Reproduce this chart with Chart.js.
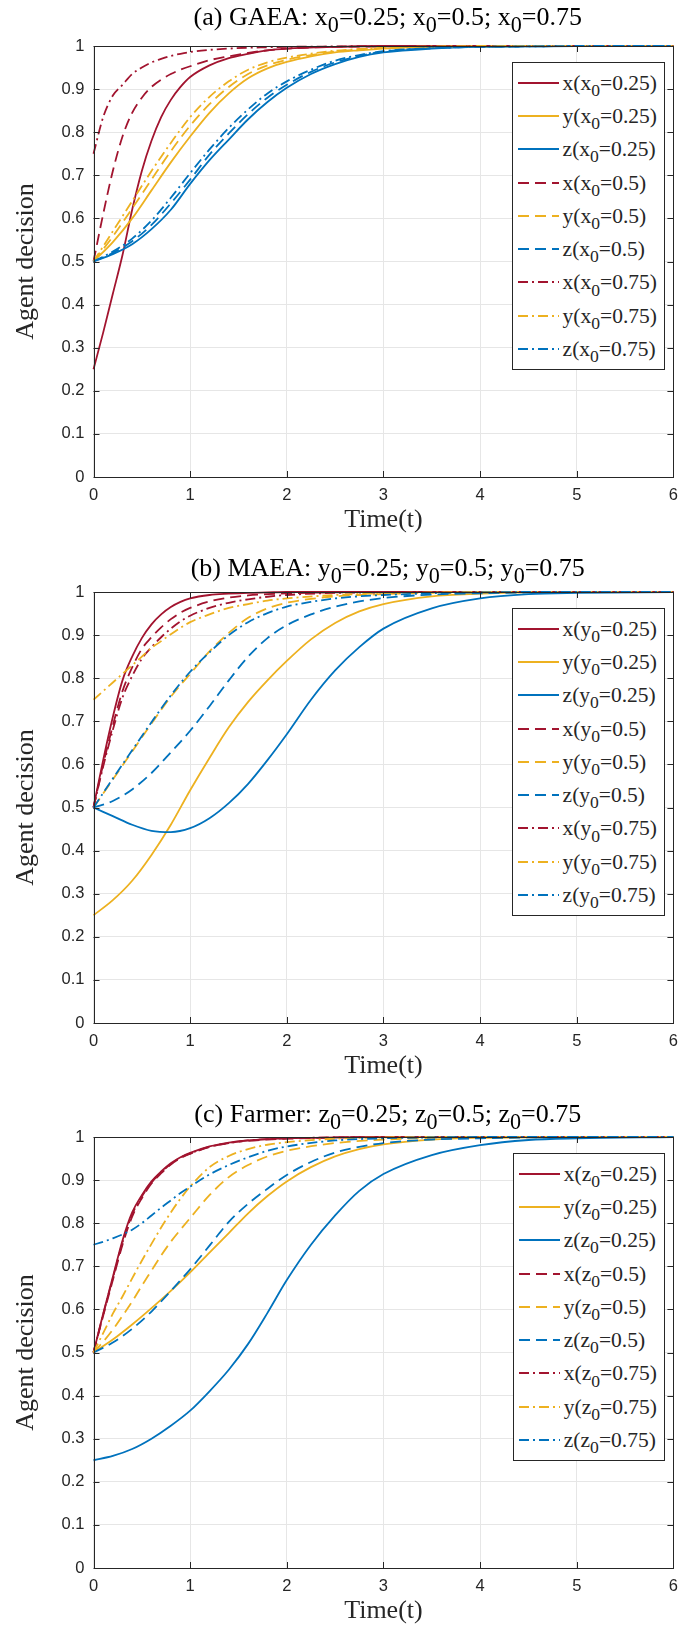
<!DOCTYPE html>
<html><head><meta charset="utf-8">
<script src="https://cdn.jsdelivr.net/npm/chart.js@4.4.1/dist/chart.umd.min.js"></script>
<style>
html,body{margin:0;padding:0;background:#fff;}
body{width:687px;height:1627px;position:relative;overflow:hidden;}
.panel{position:absolute;left:0;width:687px;height:536px;}
.panel canvas{position:absolute;left:0;top:0;}
.title{position:absolute;left:93.5px;width:588.5px;top:4px;text-align:center;font-family:"Liberation Serif","Times New Roman",serif;font-size:26px;line-height:26px;color:#000;white-space:nowrap;}
.sub{position:relative;top:0.33em;font-size:0.85em;line-height:0;}
.legend{position:absolute;right:22px;top:62px;background:#fff;border:1px solid #262626;padding:3px 7px 3px 5px;font-family:"Liberation Serif","Times New Roman",serif;font-size:21.5px;color:#262626;}
.row{height:33.3px;display:flex;align-items:center;white-space:nowrap;line-height:22px;}
.row svg{width:41px;height:10px;margin-right:4px;flex:none;}
.legend .sub{top:0.35em;font-size:0.82em;}
</style></head>
<body>
<div class="panel" id="pa" style="top:0px"><canvas id="ca" width="687" height="536"></canvas></div>
<div class="panel" id="pb" style="top:546px"><canvas id="cb" width="687" height="536"></canvas></div>
<div class="panel" id="pc" style="top:1091px"><canvas id="cc" width="687" height="536"></canvas></div>
<script>
// ---------- data ----------
const tA = [0,0.1,0.2,0.3,0.4,0.5,0.6,0.7,0.8,0.9,1,1.2,1.4,1.6,1.8,2,2.5,3,3.5,4,5,6];
const tB = [0,0.2,0.4,0.6,0.8,1,1.2,1.4,1.6,1.8,2,2.25,2.5,2.75,3,3.5,4,4.5,5,6];

const xTickLabels = ['0','1','2','3','4','5','6'];
const yTickLabels = ['0','0.1','0.2','0.3','0.4','0.5','0.6','0.7','0.8','0.9','1'];

// (a) GAEA: x0 varies
const aXSolid   = [0.25,0.335,0.425,0.515,0.62,0.71,0.78,0.835,0.875,0.905,0.928,0.955,0.972,0.982,0.99,0.994,0.998,1,1,1,1,1];
const aXDash    = [0.5,0.61,0.71,0.79,0.845,0.88,0.905,0.922,0.935,0.945,0.953,0.967,0.976,0.984,0.99,0.994,0.998,0.999,1,1,1,1];
const aXDashDot = [0.75,0.835,0.885,0.91,0.935,0.95,0.962,0.97,0.977,0.982,0.986,0.991,0.994,0.996,0.997,0.998,0.999,1,1,1,1,1];
const aYSolid   = [0.5,0.545,0.6,0.665,0.73,0.79,0.845,0.89,0.925,0.948,0.963,0.976,0.985,0.99,0.994,0.998,0.999,1,1,1];
const aYDash    = [0.5,0.558,0.623,0.69,0.756,0.815,0.865,0.905,0.935,0.955,0.968,0.979,0.987,0.992,0.995,0.998,0.999,1,1,1];
const aYDashDot = [0.5,0.57,0.64,0.71,0.775,0.835,0.882,0.918,0.945,0.962,0.973,0.982,0.989,0.993,0.996,0.999,1,1,1,1];
const aZSolid   = [0.5,0.517,0.54,0.575,0.62,0.68,0.735,0.783,0.83,0.87,0.903,0.935,0.958,0.975,0.985,0.994,0.998,0.999,1,1];
const aZDash    = [0.5,0.52,0.547,0.585,0.635,0.69,0.748,0.797,0.842,0.88,0.91,0.94,0.962,0.977,0.987,0.995,0.998,0.999,1,1];
const aZDashDot = [0.5,0.523,0.553,0.595,0.648,0.705,0.76,0.81,0.853,0.89,0.918,0.945,0.966,0.979,0.988,0.995,0.998,0.999,1,1];

// (b) MAEA: y0 varies
const bXSolid   = [0.5,0.61,0.71,0.795,0.85,0.893,0.925,0.948,0.965,0.977,0.985,0.993,0.996,0.998,0.999,1,1,1,1,1,1,1];
const bXDash    = [0.5,0.6,0.69,0.77,0.825,0.868,0.895,0.918,0.937,0.952,0.963,0.978,0.987,0.992,0.995,0.997,0.999,1,1,1,1,1];
const bXDashDot = [0.5,0.595,0.68,0.755,0.805,0.845,0.872,0.895,0.915,0.932,0.945,0.963,0.975,0.983,0.989,0.993,0.998,0.999,1,1,1,1];
const bYSolid   = [0.25,0.285,0.33,0.39,0.46,0.54,0.615,0.686,0.745,0.795,0.84,0.89,0.928,0.955,0.972,0.99,0.996,0.999,1,1];
const bYDash    = [0.5,0.565,0.63,0.695,0.757,0.81,0.862,0.905,0.94,0.962,0.975,0.984,0.99,0.993,0.995,0.998,0.999,1,1,1];
const bYDashDot = [0.75,0.77,0.79,0.81,0.83,0.85,0.87,0.886,0.902,0.917,0.93,0.948,0.963,0.972,0.98,0.985,0.993,0.997,0.999,1,1,1];
const bZSolid   = [0.5,0.48,0.46,0.446,0.443,0.452,0.475,0.51,0.555,0.61,0.67,0.75,0.818,0.872,0.915,0.962,0.985,0.995,0.998,1];
const bZDash    = [0.5,0.515,0.542,0.58,0.628,0.678,0.735,0.795,0.85,0.893,0.923,0.948,0.966,0.978,0.986,0.994,0.997,0.999,1,1];
const bZDashDot = [0.5,0.567,0.633,0.698,0.76,0.815,0.86,0.9,0.93,0.951,0.966,0.977,0.985,0.99,0.993,0.997,0.999,1,1,1];

// (c) Farmer: z0 varies
const cXSolid   = [0.5,0.59,0.675,0.76,0.825,0.865,0.897,0.92,0.939,0.953,0.963,0.978,0.987,0.992,0.995,0.997,0.999,1,1,1,1,1];
const cXDash    = [0.5,0.585,0.668,0.75,0.815,0.858,0.892,0.916,0.936,0.951,0.961,0.977,0.986,0.991,0.994,0.996,0.999,1,1,1,1,1];
const cXDashDot = [0.5,0.588,0.672,0.755,0.82,0.862,0.894,0.918,0.937,0.952,0.962,0.977,0.986,0.992,0.995,0.997,0.999,1,1,1,1,1];
const cYSolid   = [0.5,0.53,0.565,0.603,0.643,0.686,0.732,0.777,0.823,0.863,0.897,0.93,0.955,0.972,0.983,0.994,0.998,0.999,1,1];
const cYDash    = [0.5,0.525,0.553,0.585,0.618,0.655,0.69,0.725,0.757,0.785,0.812,0.865,0.907,0.935,0.955,0.968,0.986,0.994,0.998,0.999,1,1];
const cYDashDot = [0.5,0.545,0.59,0.63,0.672,0.713,0.752,0.79,0.825,0.857,0.885,0.93,0.956,0.972,0.982,0.988,0.996,0.999,1,1,1,1];
const cZSolid   = [0.25,0.26,0.276,0.3,0.33,0.365,0.41,0.46,0.52,0.592,0.668,0.75,0.818,0.875,0.914,0.958,0.981,0.993,0.997,1];
const cZDash    = [0.5,0.523,0.555,0.595,0.643,0.693,0.748,0.803,0.845,0.88,0.912,0.942,0.964,0.977,0.986,0.994,0.997,0.999,1,1];
const cZDashDot = [0.75,0.757,0.765,0.774,0.785,0.8,0.818,0.836,0.853,0.87,0.885,0.913,0.935,0.953,0.968,0.978,0.992,0.997,0.999,1,1,1];

const initValues = ['0.25','0.5','0.75'];
const panelTitles = ['(a) GAEA: ','(b) MAEA: ','(c) Farmer: '];
const panelParams = ['x','y','z'];

// ---------- styles ----------
const COLORS = {x:'#A2142F', y:'#EDB120', z:'#0072BD'};
const DASHES = [[], [11,6], [10,4,2,4]];

const panels = [
  {canvas:'ca', div:'pa', titleTop:4, series:[[aXSolid,tA],[aYSolid,tB],[aZSolid,tB],[aXDash,tA],[aYDash,tB],[aZDash,tB],[aXDashDot,tA],[aYDashDot,tB],[aZDashDot,tB]]},
  {canvas:'cb', div:'pb', titleTop:9, series:[[bXSolid,tA],[bYSolid,tB],[bZSolid,tB],[bXDash,tA],[bYDash,tB],[bZDash,tB],[bXDashDot,tA],[bYDashDot,tA],[bZDashDot,tB]]},
  {canvas:'cc', div:'pc', titleTop:10, series:[[cXSolid,tA],[cYSolid,tB],[cZSolid,tB],[cXDash,tA],[cYDash,tA],[cZDash,tB],[cXDashDot,tA],[cYDashDot,tA],[cZDashDot,tA]]}
];
const VARS = ['x','y','z'];

const boxPlugin = {
  id:'matlabBox',
  afterDatasetsDraw(chart){
    const {ctx, chartArea:a, scales:{x,y}} = chart;
    const L = 6;
    ctx.save();
    ctx.strokeStyle = '#262626';
    ctx.lineWidth = 1;
    ctx.beginPath();
    x.ticks.forEach(t=>{
      const px = Math.round(x.getPixelForValue(t.value))+0.5;
      ctx.moveTo(px,a.bottom); ctx.lineTo(px,a.bottom-L);
      ctx.moveTo(px,a.top); ctx.lineTo(px,a.top+L);
    });
    y.ticks.forEach(t=>{
      const py = Math.round(y.getPixelForValue(t.value))+0.5;
      ctx.moveTo(a.left,py); ctx.lineTo(a.left+L,py);
      ctx.moveTo(a.right,py); ctx.lineTo(a.right-L,py);
    });
    ctx.stroke();
    ctx.strokeRect(Math.round(a.left)+0.5, Math.round(a.top)+0.5, Math.round(a.right)-Math.round(a.left), Math.round(a.bottom)-Math.round(a.top));
    ctx.restore();
  }
};

function sub0(){ return '<span class="sub">0</span>'; }

panels.forEach((p, pi)=>{
  const param = panelParams[pi];
  const tdiv = document.createElement('div');
  tdiv.className = 'title';
  tdiv.style.top = p.titleTop + 'px';
  tdiv.innerHTML = panelTitles[pi] + initValues.map(v=>param+sub0()+'='+v).join('; ');
  document.getElementById(p.div).appendChild(tdiv);

  const datasets = p.series.map((s,i)=>{
    const [vals, t] = s;
    const v = VARS[i%3];
    const style = Math.floor(i/3);
    return {
      label: v+'('+param+'0='+initValues[style]+')',
      data: t.map((tt,k)=>({x:tt, y:vals[k]})),
      borderColor: COLORS[v],
      borderDash: DASHES[style],
      borderWidth: 1.8,
      pointRadius: 0,
      fill:false,
      cubicInterpolationMode:'monotone',
      clip: 5,
      order: 8-i
    };
  });

  new Chart(document.getElementById(p.canvas), {
    type:'line',
    data:{datasets},
    options:{
      responsive:false, animation:false, devicePixelRatio:1,
      layout:{padding:{top:46,right:5,left:0,bottom:0}},
      plugins:{legend:{display:false}, tooltip:{enabled:false}, title:{display:false}},
      scales:{
        x:{
          type:'linear', min:0, max:6,
          afterFit(s){ s.height = 59; },
          ticks:{stepSize:1, padding:9, color:'#262626', autoSkip:false, maxRotation:0,
                 font:{family:"'Liberation Sans', Arial, sans-serif", size:16.5},
                 callback:(v,i)=>xTickLabels[i]},
          grid:{color:'#e6e6e6', lineWidth:1, drawTicks:false},
          border:{display:false},
          title:{display:true, text:'Time(t)', color:'#262626',
                 font:{family:"'Liberation Serif', 'Times New Roman', serif", size:26, lineHeight:1},
                 padding:{top:0,bottom:3}}
        },
        y:{
          type:'linear', min:0, max:1,
          afterFit(s){ s.width = 93.5; },
          ticks:{stepSize:0.1, padding:9, color:'#262626', autoSkip:false,
                 font:{family:"'Liberation Sans', Arial, sans-serif", size:16.5},
                 callback:(v,i)=>yTickLabels[i]},
          grid:{color:'#e6e6e6', lineWidth:1, drawTicks:false},
          border:{display:false},
          title:{display:true, text:'Agent decision', color:'#262626',
                 font:{family:"'Liberation Serif', 'Times New Roman', serif", size:26, lineHeight:1},
                 padding:{top:13,bottom:0}}
        }
      }
    },
    plugins:[boxPlugin]
  });

  const lg = document.createElement('div');
  lg.className = 'legend';
  datasets.forEach((d,i)=>{
    const v = VARS[i%3];
    const style = Math.floor(i/3);
    const row = document.createElement('div');
    row.className = 'row';
    const dash = DASHES[style].length ? ` stroke-dasharray="${DASHES[style].join(',')}"` : '';
    row.innerHTML = `<svg viewBox="0 0 41 10"><line x1="0" y1="5" x2="41" y2="5" stroke="${COLORS[v]}" stroke-width="2"${dash}/></svg>`+
      `<span>${v}(${param}${sub0()}=${initValues[style]})</span>`;
    lg.appendChild(row);
  });
  document.getElementById(p.div).appendChild(lg);
});
</script>
</body></html>
